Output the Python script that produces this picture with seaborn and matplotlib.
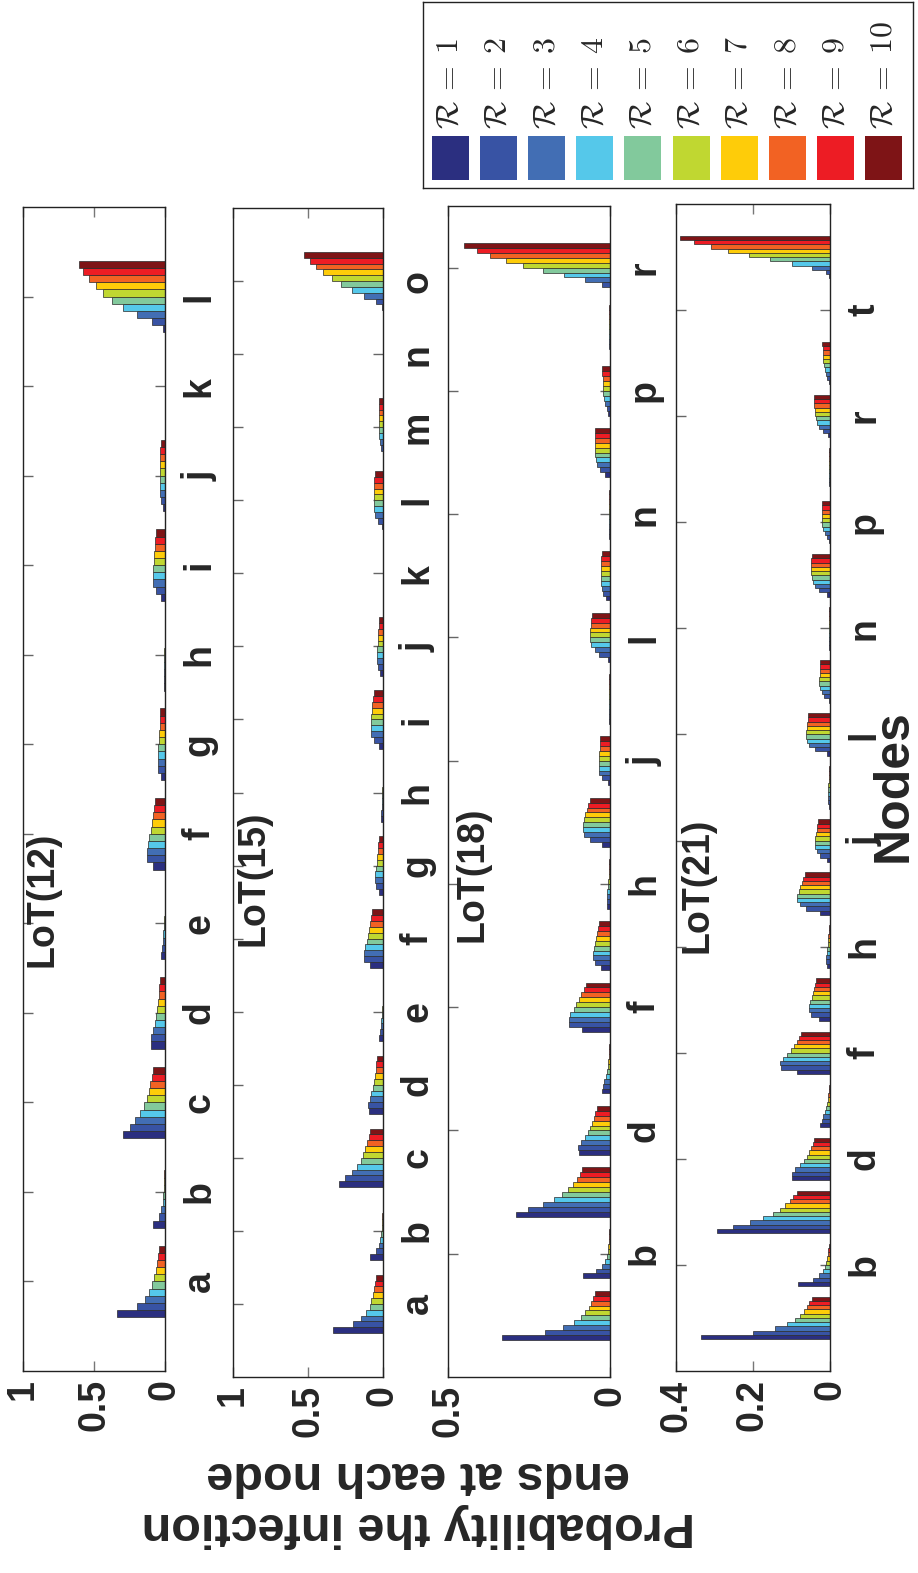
import numpy as np
import pandas as pd
import matplotlib
matplotlib.use("Agg")
import matplotlib.pyplot as plt
from matplotlib.patches import Rectangle
import seaborn as sns

# ---------------- data ----------------
node_names = list("abcdefghijklmnopqrstu")
r_labels = [str(i) for i in range(1, 11)]
colors = ["#2B2F80", "#3853A4", "#426EB4", "#55C8EA", "#82C99C",
          "#C0D731", "#FECC09", "#F26223", "#ED1C24", "#7E1416"]

lot12 = [
    [0.335, 0.199, 0.143, 0.110, 0.089, 0.075, 0.066, 0.059, 0.052, 0.045],
    [0.082, 0.042, 0.026, 0.016, 0.012, 0.009, 0.007, 0.005, 0.003, 0.002],
    [0.293, 0.250, 0.208, 0.173, 0.150, 0.129, 0.112, 0.103, 0.094, 0.084],
    [0.096, 0.100, 0.087, 0.073, 0.066, 0.059, 0.052, 0.045, 0.040, 0.037],
    [0.026, 0.022, 0.016, 0.011, 0.007, 0.005, 0.003, 0.002, 0.001, 0.001],
    [0.082, 0.124, 0.129, 0.119, 0.110, 0.100, 0.094, 0.082, 0.077, 0.073],
    [0.028, 0.047, 0.052, 0.052, 0.047, 0.042, 0.040, 0.035, 0.035, 0.033],
    [0.005, 0.008, 0.008, 0.007, 0.005, 0.004, 0.003, 0.002, 0.002, 0.001],
    [0.026, 0.063, 0.082, 0.084, 0.082, 0.080, 0.075, 0.070, 0.068, 0.063],
    [0.012, 0.026, 0.035, 0.037, 0.037, 0.037, 0.035, 0.033, 0.033, 0.030],
    [0.001, 0.002, 0.002, 0.002, 0.002, 0.002, 0.002, 0.002, 0.002, 0.002],
    [0.014, 0.094, 0.199, 0.293, 0.372, 0.438, 0.487, 0.536, 0.574, 0.609],
]

lot15 = [
    [0.333, 0.200, 0.144, 0.111, 0.089, 0.078, 0.067, 0.060, 0.053, 0.047],
    [0.084, 0.044, 0.027, 0.018, 0.011, 0.008, 0.006, 0.004, 0.003, 0.002],
    [0.293, 0.253, 0.207, 0.176, 0.149, 0.131, 0.118, 0.107, 0.096, 0.084],
    [0.096, 0.100, 0.089, 0.078, 0.069, 0.060, 0.053, 0.049, 0.044, 0.040],
    [0.024, 0.020, 0.016, 0.011, 0.007, 0.005, 0.003, 0.002, 0.002, 0.001],
    [0.087, 0.127, 0.129, 0.118, 0.109, 0.098, 0.091, 0.084, 0.078, 0.071],
    [0.024, 0.049, 0.053, 0.051, 0.047, 0.042, 0.040, 0.036, 0.031, 0.029],
    [0.011, 0.011, 0.009, 0.007, 0.005, 0.004, 0.003, 0.002, 0.002, 0.001],
    [0.024, 0.062, 0.078, 0.082, 0.082, 0.078, 0.076, 0.071, 0.067, 0.060],
    [0.020, 0.031, 0.038, 0.040, 0.038, 0.036, 0.033, 0.031, 0.029, 0.027],
    [0.002, 0.003, 0.003, 0.003, 0.003, 0.002, 0.002, 0.002, 0.002, 0.001],
    [0.004, 0.031, 0.053, 0.060, 0.062, 0.062, 0.060, 0.060, 0.058, 0.056],
    [0.002, 0.013, 0.020, 0.024, 0.027, 0.027, 0.027, 0.027, 0.027, 0.027],
    [0.001, 0.002, 0.002, 0.002, 0.002, 0.002, 0.002, 0.002, 0.002, 0.002],
    [0.004, 0.047, 0.124, 0.204, 0.278, 0.342, 0.398, 0.447, 0.487, 0.524],
]

lot18 = [
    [0.334, 0.200, 0.144, 0.110, 0.091, 0.076, 0.066, 0.058, 0.052, 0.047],
    [0.082, 0.044, 0.026, 0.016, 0.010, 0.007, 0.005, 0.004, 0.003, 0.002],
    [0.291, 0.252, 0.206, 0.172, 0.147, 0.129, 0.115, 0.103, 0.094, 0.086],
    [0.096, 0.100, 0.089, 0.076, 0.068, 0.061, 0.055, 0.048, 0.045, 0.040],
    [0.024, 0.022, 0.018, 0.013, 0.009, 0.007, 0.005, 0.004, 0.003, 0.002],
    [0.085, 0.126, 0.128, 0.122, 0.112, 0.104, 0.096, 0.088, 0.080, 0.074],
    [0.027, 0.046, 0.053, 0.053, 0.049, 0.047, 0.044, 0.041, 0.037, 0.034],
    [0.008, 0.010, 0.010, 0.008, 0.006, 0.005, 0.004, 0.003, 0.002, 0.002],
    [0.024, 0.063, 0.079, 0.083, 0.083, 0.080, 0.077, 0.072, 0.068, 0.063],
    [0.007, 0.025, 0.033, 0.035, 0.035, 0.034, 0.033, 0.032, 0.032, 0.030],
    [0.003, 0.004, 0.004, 0.004, 0.004, 0.003, 0.003, 0.003, 0.002, 0.002],
    [0.007, 0.033, 0.047, 0.060, 0.062, 0.062, 0.061, 0.060, 0.058, 0.055],
    [0.012, 0.021, 0.025, 0.027, 0.029, 0.029, 0.029, 0.028, 0.027, 0.026],
    [0.002, 0.003, 0.003, 0.003, 0.003, 0.003, 0.002, 0.002, 0.002, 0.002],
    [0.015, 0.031, 0.040, 0.044, 0.046, 0.047, 0.047, 0.047, 0.047, 0.047],
    [0.005, 0.010, 0.015, 0.019, 0.021, 0.022, 0.023, 0.023, 0.024, 0.024],
    [0.001, 0.002, 0.002, 0.002, 0.002, 0.002, 0.002, 0.002, 0.002, 0.002],
    [0.001, 0.024, 0.076, 0.142, 0.208, 0.267, 0.322, 0.370, 0.412, 0.452],
]

lot21 = [
    [0.335, 0.200, 0.144, 0.111, 0.091, 0.077, 0.067, 0.060, 0.054, 0.048],
    [0.084, 0.045, 0.028, 0.018, 0.012, 0.010, 0.007, 0.005, 0.004, 0.003],
    [0.294, 0.252, 0.209, 0.175, 0.149, 0.131, 0.116, 0.105, 0.096, 0.087],
    [0.098, 0.100, 0.090, 0.078, 0.067, 0.060, 0.054, 0.049, 0.045, 0.041],
    [0.025, 0.022, 0.018, 0.014, 0.010, 0.008, 0.006, 0.004, 0.003, 0.003],
    [0.086, 0.127, 0.130, 0.121, 0.111, 0.102, 0.094, 0.087, 0.081, 0.075],
    [0.028, 0.050, 0.055, 0.054, 0.051, 0.048, 0.045, 0.041, 0.039, 0.036],
    [0.009, 0.011, 0.010, 0.009, 0.007, 0.006, 0.005, 0.004, 0.003, 0.003],
    [0.025, 0.063, 0.079, 0.085, 0.085, 0.081, 0.078, 0.073, 0.069, 0.064],
    [0.009, 0.026, 0.035, 0.038, 0.039, 0.038, 0.037, 0.035, 0.034, 0.031],
    [0.003, 0.004, 0.004, 0.004, 0.004, 0.004, 0.003, 0.003, 0.003, 0.002],
    [0.007, 0.040, 0.054, 0.060, 0.062, 0.062, 0.060, 0.060, 0.058, 0.057],
    [0.003, 0.015, 0.022, 0.026, 0.028, 0.028, 0.027, 0.027, 0.026, 0.025],
    [0.002, 0.003, 0.003, 0.003, 0.003, 0.003, 0.002, 0.002, 0.002, 0.002],
    [0.009, 0.029, 0.038, 0.045, 0.048, 0.050, 0.050, 0.050, 0.049, 0.048],
    [0.003, 0.009, 0.014, 0.017, 0.020, 0.021, 0.022, 0.022, 0.022, 0.022],
    [0.001, 0.002, 0.002, 0.002, 0.002, 0.002, 0.002, 0.002, 0.002, 0.002],
    [0.006, 0.017, 0.029, 0.035, 0.037, 0.039, 0.040, 0.041, 0.041, 0.041],
    [0.003, 0.008, 0.011, 0.014, 0.016, 0.017, 0.018, 0.019, 0.019, 0.020],
    [0.001, 0.001, 0.001, 0.001, 0.001, 0.001, 0.001, 0.001, 0.001, 0.001],
    [0.002, 0.011, 0.048, 0.099, 0.156, 0.211, 0.264, 0.309, 0.352, 0.390],
]

titles = ["LoT(12)", "LoT(15)", "LoT(18)", "LoT(21)"]
value_max = [1.0, 1.0, 0.5, 0.4]
value_ticks = [[0, 0.5, 1], [0, 0.5, 1], [0, 0.5], [0, 0.2, 0.4]]
value_ticklabels = [["0", "0.5", "1"], ["0", "0.5", "1"], ["0", "0.5"], ["0", "0.2", "0.4"]]
label_step = [1, 1, 2, 2]

# ---------------- style ----------------
sns.set_style("white")
plt.rcParams["font.family"] = ["Liberation Sans", "DejaVu Sans"]
plt.rcParams["font.weight"] = "bold"
plt.rcParams["mathtext.fontset"] = "cm"

W, H = 918, 1573
fig = plt.figure(figsize=(W / 100, H / 100), dpi=100)

# axes boxes in pixel coordinates (left, top, right, bottom)
boxes = [(23, 207, 165, 1371), (233, 208, 383, 1377),
         (448, 206, 610, 1377), (676, 204, 830, 1371)]
title_pos = [(0.14, 0.405), (0.14, 0.427), (0.15, 0.429), (0.14, 0.416)]

FS = 27
for k, vals in enumerate([lot12, lot15, lot18, lot21]):
    l, t, r, b = boxes[k]
    ax = fig.add_axes([l / W, 1 - b / H, (r - l) / W, (b - t) / H])
    n = len(vals)
    nodes = node_names[:n]
    df = pd.DataFrame(
        [(nodes[i], r_labels[j], vals[i][j]) for i in range(n) for j in range(10)],
        columns=["node", "R", "p"],
    )
    sns.barplot(data=df, x="p", y="node", hue="R", order=nodes,
                hue_order=r_labels, palette=colors, orient="h",
                errorbar=None, width=0.8, saturation=1,
                edgecolor="#2a2a2a", linewidth=0.5, legend=False, ax=ax)
    ax.set_xlim(value_max[k], 0)
    ax.set_ylim(-1, n)
    ax.set_xticks(value_ticks[k])
    ax.set_xticklabels(value_ticklabels[k])
    step = label_step[k]
    pos = list(range(step - 1, n, step))
    ax.set_yticks(pos)
    ax.set_yticklabels([nodes[p] for p in pos])
    ax.set_xlabel("")
    ax.set_ylabel("")
    ax.tick_params(axis="x", which="both", direction="in", bottom=True, top=True,
                   length=7, width=1, color="#777777", labelsize=FS,
                   labelrotation=90, pad=6)
    ax.tick_params(axis="y", which="both", direction="in", left=True, right=True,
                   labelleft=False, labelright=True, length=7, width=1,
                   color="#666666", labelsize=FS, labelrotation=90, pad=12)
    for lab in ax.get_yticklabels():
        lab.set_va("center")
    for sp in ax.spines.values():
        sp.set_color("#222222")
        sp.set_linewidth(1.0)
        sp.set_visible(True)
    tx, ty = title_pos[k]
    ax.text(tx, ty, titles[k], transform=ax.transAxes, rotation=90,
            ha="center", va="center", fontsize=FS, fontweight="bold")

# shared axis labels
fig.text(894 / W, 1 - 786 / H, "Nodes", rotation=90, ha="center", va="center",
         fontsize=36, fontweight="bold")
fig.text(418 / W, 1 - 1500 / H, "Probability the infection\nends at each node",
         rotation=180, ha="center", va="center", multialignment="center",
         fontsize=35, fontweight="bold", linespacing=1.15)

# legend
lax = fig.add_axes([423 / W, 1 - 188 / H, 490 / W, 186 / H])
lax.set_xlim(423, 913)
lax.set_ylim(188, 2)
lax.set_xticks([])
lax.set_yticks([])
for sp in lax.spines.values():
    sp.set_color("#222222")
    sp.set_linewidth(1.0)
    sp.set_visible(True)
for j, c in enumerate(colors):
    cx = 450 + j * 48.2
    lax.add_patch(Rectangle((cx - 18.5, 136), 37, 44, facecolor=c, edgecolor="none"))
    lax.text(cx, 129, r"$\mathcal{R}\:=\:%s$" % r_labels[j], rotation=90,
             ha="center", va="bottom", fontsize=23)

fig.savefig("out.png", dpi=100)
